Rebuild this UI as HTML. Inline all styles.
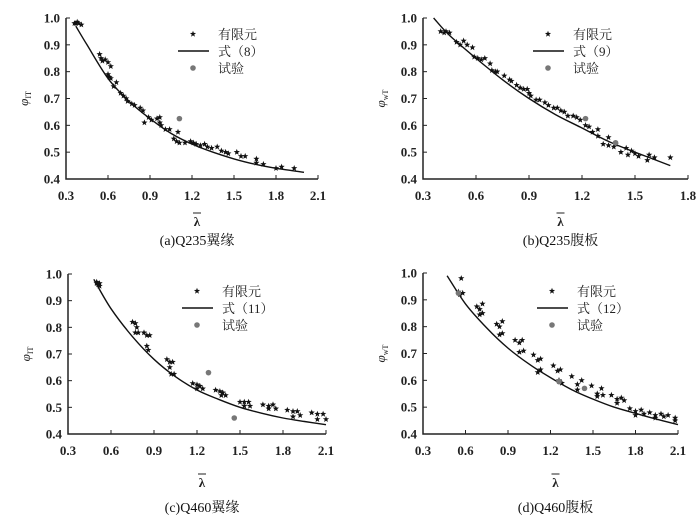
<!DOCTYPE html>
<html><head><meta charset="utf-8"><style>
body{margin:0;background:#fff;}
svg{display:block;}
.tk{font-family:"Liberation Serif","Noto Serif CJK SC",serif;font-size:13px;font-weight:bold;fill:#222;}
.lg{font-family:"Liberation Serif","Noto Serif CJK SC",serif;font-size:13px;fill:#222;}
.cap{font-family:"Liberation Serif","Noto Serif CJK SC",serif;font-size:14px;fill:#111;}
</style></head><body>
<svg id="s" width="700" height="523" xmlns="http://www.w3.org/2000/svg"></svg>
<script>
const fea_a=[[0.36,0.98],[0.37,0.98],[0.38,0.985],[0.39,0.98],[0.41,0.975],[0.54,0.865],[0.55,0.85],[0.56,0.84],[0.58,0.845],[0.6,0.835],[0.62,0.82],[0.6,0.79],[0.61,0.78],[0.62,0.775],[0.66,0.76],[0.64,0.745],[0.69,0.72],[0.71,0.71],[0.73,0.7],[0.74,0.69],[0.77,0.68],[0.79,0.675],[0.83,0.665],[0.85,0.655],[0.86,0.61],[0.89,0.63],[0.91,0.62],[0.95,0.625],[0.97,0.63],[0.97,0.61],[0.98,0.6],[1.01,0.585],[1.04,0.585],[1.1,0.575],[1.07,0.55],[1.09,0.54],[1.11,0.535],[1.15,0.535],[1.19,0.54],[1.21,0.535],[1.23,0.53],[1.26,0.525],[1.29,0.53],[1.31,0.52],[1.34,0.515],[1.38,0.52],[1.41,0.505],[1.44,0.5],[1.46,0.495],[1.52,0.5],[1.55,0.485],[1.58,0.485],[1.66,0.475],[1.66,0.46],[1.71,0.455],[1.8,0.44],[1.84,0.445],[1.93,0.44]];
const test_a=[[1.11,0.625]];
const fit_a=[[0.37,0.97],[0.45,0.9],[0.6,0.775],[0.75,0.69],[0.9,0.625],[1.05,0.57],[1.2,0.53],[1.35,0.5],[1.5,0.475],[1.65,0.455],[1.8,0.44],[2.0,0.425]];
const fea_b=[[0.4,0.95],[0.42,0.945],[0.43,0.95],[0.45,0.945],[0.49,0.91],[0.51,0.9],[0.53,0.915],[0.55,0.9],[0.58,0.89],[0.59,0.855],[0.61,0.85],[0.63,0.845],[0.65,0.85],[0.68,0.83],[0.69,0.805],[0.71,0.8],[0.72,0.8],[0.76,0.785],[0.79,0.77],[0.8,0.765],[0.83,0.75],[0.85,0.74],[0.87,0.735],[0.89,0.735],[0.9,0.72],[0.91,0.71],[0.94,0.695],[0.96,0.695],[0.99,0.685],[1.01,0.675],[1.04,0.665],[1.06,0.665],[1.08,0.655],[1.1,0.65],[1.12,0.635],[1.15,0.635],[1.17,0.63],[1.19,0.62],[1.22,0.6],[1.24,0.595],[1.26,0.575],[1.29,0.585],[1.29,0.56],[1.32,0.53],[1.35,0.555],[1.35,0.525],[1.38,0.52],[1.39,0.53],[1.42,0.5],[1.45,0.515],[1.46,0.49],[1.48,0.505],[1.5,0.495],[1.52,0.485],[1.57,0.47],[1.58,0.49],[1.61,0.48],[1.7,0.48]];
const test_b=[[1.22,0.625],[1.39,0.535]];
const fit_b=[[0.36,1.0],[0.45,0.935],[0.6,0.85],[0.75,0.77],[0.9,0.7],[1.05,0.64],[1.2,0.59],[1.35,0.54],[1.5,0.5],[1.6,0.475],[1.7,0.45]];
const fea_c=[[0.5,0.97],[0.51,0.96],[0.52,0.965],[0.5,0.965],[0.52,0.955],[0.75,0.82],[0.77,0.815],[0.78,0.8],[0.77,0.78],[0.79,0.78],[0.83,0.78],[0.85,0.77],[0.87,0.77],[0.85,0.73],[0.86,0.715],[0.99,0.68],[1.01,0.67],[1.03,0.67],[1.01,0.65],[1.02,0.625],[1.04,0.625],[1.17,0.59],[1.2,0.585],[1.22,0.58],[1.2,0.57],[1.24,0.57],[1.33,0.565],[1.36,0.56],[1.38,0.555],[1.37,0.545],[1.4,0.545],[1.5,0.52],[1.53,0.52],[1.56,0.52],[1.53,0.505],[1.57,0.505],[1.66,0.51],[1.7,0.505],[1.73,0.51],[1.7,0.495],[1.75,0.495],[1.83,0.49],[1.87,0.485],[1.9,0.485],[1.87,0.465],[1.92,0.47],[2.0,0.48],[2.04,0.475],[2.08,0.475],[2.04,0.455],[2.1,0.455]];
const test_c=[[1.28,0.63],[1.46,0.46]];
const fit_c=[[0.48,0.98],[0.6,0.87],[0.75,0.765],[0.9,0.68],[1.05,0.615],[1.2,0.565],[1.35,0.53],[1.5,0.5],[1.65,0.478],[1.8,0.46],[1.95,0.447],[2.1,0.435]];
const fea_d=[[0.55,0.93],[0.57,0.98],[0.56,0.92],[0.58,0.925],[0.68,0.875],[0.7,0.865],[0.72,0.885],[0.7,0.845],[0.72,0.85],[0.82,0.81],[0.84,0.8],[0.86,0.82],[0.84,0.77],[0.86,0.775],[0.95,0.75],[0.98,0.74],[1.0,0.75],[0.98,0.705],[1.01,0.71],[1.08,0.695],[1.11,0.675],[1.13,0.68],[1.11,0.63],[1.13,0.64],[1.22,0.655],[1.25,0.635],[1.27,0.64],[1.26,0.6],[1.28,0.59],[1.35,0.615],[1.39,0.585],[1.42,0.6],[1.39,0.565],[1.49,0.58],[1.53,0.55],[1.56,0.57],[1.53,0.54],[1.57,0.545],[1.63,0.545],[1.67,0.53],[1.7,0.535],[1.67,0.515],[1.72,0.525],[1.76,0.495],[1.8,0.485],[1.84,0.49],[1.8,0.47],[1.86,0.475],[1.9,0.48],[1.94,0.47],[1.98,0.475],[1.94,0.46],[2.0,0.465],[2.03,0.47],[2.08,0.46],[2.08,0.45]];
const test_d=[[0.55,0.925],[1.26,0.595],[1.44,0.57]];
const fit_d=[[0.47,0.99],[0.6,0.885],[0.75,0.795],[0.9,0.72],[1.05,0.66],[1.2,0.61],[1.35,0.565],[1.5,0.53],[1.65,0.5],[1.8,0.477],[1.95,0.455],[2.1,0.435]];
const yTicks=["0.4","0.5","0.6","0.7","0.8","0.9","1.0"];
const xTicksLong=["0.3","0.6","0.9","1.2","1.5","1.8","2.1"];
const xTicksShort=["0.3","0.6","0.9","1.2","1.5","1.8"];

const NS="http://www.w3.org/2000/svg";
const svg=document.getElementById('s');
function mk(tag,attrs,parent,txt){const e=document.createElementNS(NS,tag);for(const k in attrs)e.setAttribute(k,attrs[k]);if(txt!==undefined)e.textContent=txt;(parent||svg).appendChild(e);return e;}

const panels=[
 {id:'a',x0:66,x1:318,xmax:2.1,yt:18,yb:179,xt:xTicksLong,fea:fea_a,test:test_a,fit:fit_a,leg:'式（8）',lx:193,ly:34,cap:'(a)Q235翼缘',ysub:'IT',lamY:226,capY:245},
 {id:'b',x0:423,x1:688,xmax:1.8,yt:18,yb:179,xt:xTicksShort,fea:fea_b,test:test_b,fit:fit_b,leg:'式（9）',lx:548,ly:34,cap:'(b)Q235腹板',ysub:'wT',lamY:226,capY:245},
 {id:'c',x0:68,x1:326,xmax:2.1,yt:274,yb:434,xt:xTicksLong,fea:fea_c,test:test_c,fit:fit_c,leg:'式（11）',lx:197,ly:291,cap:'(c)Q460翼缘',ysub:'IT',lamY:487,capY:512},
 {id:'d',x0:423,x1:678,xmax:2.1,yt:273,yb:434,xt:xTicksLong,fea:fea_d,test:test_d,fit:fit_d,leg:'式（12）',lx:552,ly:291,cap:'(d)Q460腹板',ysub:'wT',lamY:487,capY:512}
];
function star(g,cx,cy,r){let p=[];for(let i=0;i<10;i++){const a=-Math.PI/2+i*Math.PI/5;const rr=i%2?r*0.42:r;p.push((cx+rr*Math.cos(a)).toFixed(1)+','+(cy+rr*Math.sin(a)).toFixed(1));}return mk('polygon',{points:p.join(' '),fill:'#111'},g);}
panels.forEach(P=>{
 const g=mk('g',{});
 
 
 const sx=v=>P.x0+(v-0.3)/(P.xmax-0.3)*(P.x1-P.x0);
 const sy=v=>P.yb-(v-0.4)/0.6*(P.yb-P.yt);
 const ax=mk('path',{d:`M${P.x0},${P.yt} V${P.yb} H${P.x1}`,stroke:'#222','stroke-width':1.5,fill:'none'},g);
 
 
 yTicks.forEach(t=>{const y=sy(+t);mk('line',{x1:P.x0,x2:P.x0+4,y1:y,y2:y,stroke:'#222'},g);const tx=mk('text',{x:P.x0-6,y:y+4.5,'text-anchor':'end',class:'tk'},g,t);});
 P.xt.forEach(t=>{const x=sx(+t);mk('line',{x1:x,x2:x,y1:P.yb,y2:P.yb-4,stroke:'#222'},g);const tx=mk('text',{x:x,y:P.yb+21,'text-anchor':'middle',class:'tk'},g,t);});
 let d='M'+sx(P.fit[0][0]).toFixed(1)+','+sy(P.fit[0][1]).toFixed(1);
 for(let i=0;i<P.fit.length-1;i++){const p0=P.fit[Math.max(0,i-1)],p1=P.fit[i],p2=P.fit[i+1],p3=P.fit[Math.min(P.fit.length-1,i+2)];
  const c1x=sx(p1[0])+(sx(p2[0])-sx(p0[0]))/6,c1y=sy(p1[1])+(sy(p2[1])-sy(p0[1]))/6;
  const c2x=sx(p2[0])-(sx(p3[0])-sx(p1[0]))/6,c2y=sy(p2[1])-(sy(p3[1])-sy(p1[1]))/6;
  d+=` C${c1x.toFixed(1)},${c1y.toFixed(1)} ${c2x.toFixed(1)},${c2y.toFixed(1)} ${sx(p2[0]).toFixed(1)},${sy(p2[1]).toFixed(1)}`;}
 const ln=mk('path',{d:d,stroke:'#111','stroke-width':1.4,fill:'none'},g);
 
 
 P.fea.forEach(p=>{const s=star(g,sx(p[0]),sy(p[1]),3.3);});
 P.test.forEach(p=>{const c=mk('circle',{cx:sx(p[0]),cy:sy(p[1]),r:2.8,fill:'#777'},g);});
 const L=mk('g',{},g);
 
 
 star(L,P.lx,P.ly,3.3);
 mk('text',{x:P.lx+25,y:P.ly+5,class:'lg'},L,'有限元');
 mk('line',{x1:P.lx-15,x2:P.lx+16,y1:P.ly+17,y2:P.ly+17,stroke:'#111','stroke-width':1.4},L);
 mk('text',{x:P.lx+25,y:P.ly+22,class:'lg'},L,P.leg);
 mk('circle',{cx:P.lx,cy:P.ly+34,r:2.8,fill:'#777'},L);
 mk('text',{x:P.lx+25,y:P.ly+39,class:'lg'},L,'试验');
 const yl=mk('text',{x:0,y:0,class:'lg',transform:`translate(${P.x0-38},${(P.yt+P.yb)/2}) rotate(-90)`,'text-anchor':'middle','font-style':'italic'},g);
 
 
 mk('tspan',{},yl,'φ');
 mk('tspan',{'font-size':'8','dy':'3','font-style':'normal'},yl,P.ysub);
 const cx=(P.x0+P.x1)/2+5;
 const lam=mk('text',{x:cx,y:P.lamY,'text-anchor':'middle',class:'tk'},g,'λ');
 
 
 mk('line',{x1:cx-4,x2:cx+4,y1:P.lamY-13,y2:P.lamY-13,stroke:'#222','stroke-width':1},g);
 const cp=mk('text',{x:cx,y:P.capY,'text-anchor':'middle',class:'cap'},g,P.cap);
 
 
});
</script>
</body></html>
